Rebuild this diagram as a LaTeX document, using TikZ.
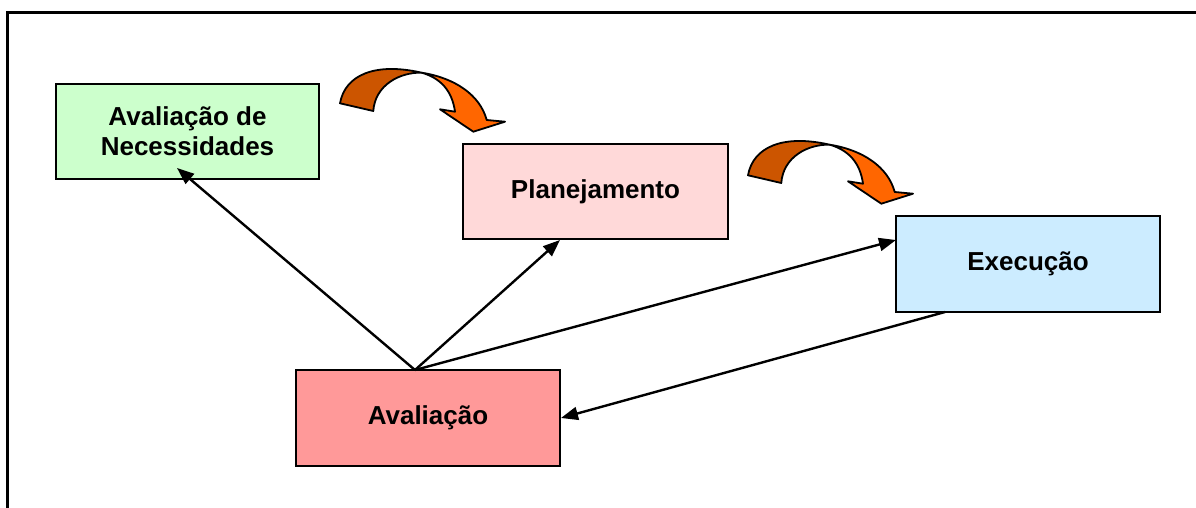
\documentclass[tikz,border=0pt]{standalone}
\usepackage{fontspec}
\setmainfont{Liberation Sans}
\usetikzlibrary{arrows.meta}
\definecolor{cnec}{HTML}{CCFFCC}
\definecolor{cplan}{HTML}{FFD9D9}
\definecolor{cexec}{HTML}{CCECFF}
\definecolor{caval}{HTML}{FF9999}
\definecolor{cdark}{HTML}{CC5500}
\definecolor{clight}{HTML}{FF6600}
\tikzset{
  box/.style={draw=black, line width=2pt, minimum width=263pt, minimum height=95pt,
    inner sep=0pt, align=center, font=\fontsize{26}{30}\selectfont\bfseries},
  link/.style={draw=black, line width=2.4pt, -{Triangle[length=17pt,width=13pt]}},
  curvedark/.style={fill=cdark, draw=black, line width=1.8pt, line join=round},
  curvelight/.style={fill=clight, draw=black, line width=1.8pt, line join=round},
}
\newcommand{\curvedarrow}[1]{%
  \begin{scope}[shift={#1}]
    \path[curvedark] (10,43.3) .. controls (15,15) and (45,2) .. (91.7,12.7)
      .. controls (70,12) and (45,25) .. (43.3,51) -- cycle;
    \path[curvelight] (91.7,12.7) .. controls (125,18) and (150,35) .. (156.7,60)
      -- (175,61.7) -- (143.3,71.7) -- (110,49.3) -- (125,51.7)
      .. controls (122,30) and (110,18) .. (91.7,12.7) -- cycle;
  \end{scope}}
\begin{document}
\begin{tikzpicture}[x=1pt,y=-1pt]
\useasboundingbox (0,0) rectangle (1196,508);
% frame
\draw[line width=2.6pt] (7.5,520) -- (7.5,12.5) -- (1210,12.5);
% boxes
\node[box, fill=cnec]  (nec)  at (187.5,131.5) {Avaliação de\\Necessidades};
\node[box, fill=cplan, minimum width=265pt] (plan) at (595.5,191.5) {Planejamento};
\node[box, fill=cexec, minimum width=264pt, minimum height=96pt] (exec) at (1028,264) {Execução};
\node[box, fill=caval, minimum width=264pt, minimum height=96pt] (aval) at (428,418) {Avaliação};
% connector points
\coordinate (hub) at (415,370);
\coordinate (tnec) at (177,168);
\coordinate (tplan) at (560,240);
\coordinate (texec) at (896,240);
\coordinate (sexec) at (945,312);
\coordinate (taval) at (561,418);
\draw[link] (hub) -- (tnec);
\draw[link] (hub) -- (tplan);
\draw[link] (hub) -- (texec);
\draw[link] (sexec) -- (taval);
% curved arrows
\curvedarrow{(330,60)}
\curvedarrow{(738,132)}
\end{tikzpicture}
\end{document}
